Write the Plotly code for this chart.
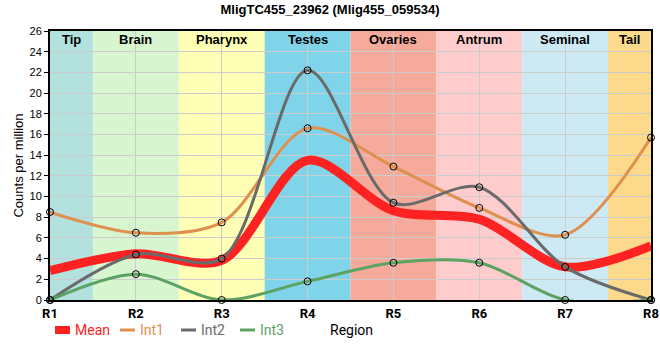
import plotly.graph_objects as go

regions = ["R1", "R2", "R3", "R4", "R5", "R6", "R7", "R8"]
x_pos = [1, 2, 3, 4, 5, 6, 7, 8]
mean_vals = [2.83, 4.47, 3.83, 13.5, 8.63, 7.8, 3.2, 5.23]
int1_vals = [8.5, 6.5, 7.5, 16.6, 12.9, 8.9, 6.3, 15.7]
int2_vals = [0.0, 4.4, 4.0, 22.2, 9.4, 10.9, 3.2, 0.0]
int3_vals = [0.0, 2.5, 0.0, 1.8, 3.6, 3.6, 0.0, 0.0]

band_names = ["Tip", "Brain", "Pharynx", "Testes", "Ovaries", "Antrum", "Seminal", "Tail"]
band_starts = [1.0, 1.5, 2.5, 3.5, 4.5, 5.5, 6.5, 7.5]
band_ends = [1.5, 2.5, 3.5, 4.5, 5.5, 6.5, 7.5, 8.0]
band_colors = ["#b3e1dd", "#d7f6d0", "#ffffb5", "#7fd4ea", "#f5aa9b",
               "#ffcccd", "#cde9f3", "#fdd98b"]

series_names = ["Mean", "Int1", "Int2", "Int3"]
series_vals = [mean_vals, int1_vals, int2_vals, int3_vals]
series_colors = ["#ff2222", "#df8f4e", "#6a6a6a", "#5ba263"]
series_widths = [9, 3, 3, 3]
series_markers = [False, True, True, True]

# plot area geometry (pixels) for the hand-drawn legend
L, R, T, B = 50, 651, 31, 300
W, H = R - L, B - T


def px(x):
    return (x - L) / W


def py(y):
    return (B - y) / H


fig = go.Figure()
for name, vals, color, width in zip(series_names, series_vals, series_colors, series_widths):
    fig.add_trace(go.Scatter(
        x=x_pos, y=vals, mode="lines", name=name,
        line=dict(color=color, width=width, shape="spline", smoothing=0.9),
        hoverinfo="skip", showlegend=False,
    ))
for vals, mk in zip(series_vals, series_markers):
    if mk:
        fig.add_trace(go.Scatter(
            x=x_pos, y=vals, mode="markers",
            marker=dict(symbol="circle-open", size=7, color="black",
                        line=dict(width=1, color="black")),
            showlegend=False, hoverinfo="skip", cliponaxis=False,
        ))

shapes = []
annotations = []
for nm, s, e, c in zip(band_names, band_starts, band_ends, band_colors):
    shapes.append(dict(type="rect", xref="x", yref="y", x0=s, x1=e, y0=0, y1=26,
                       fillcolor=c, line=dict(width=0), layer="below"))
    annotations.append(dict(x=(s + e) / 2, y=26, xref="x", yref="y",
                            text=f"<b>{nm}</b>", showarrow=False, yanchor="middle",
                            yshift=-8,
                            font=dict(family="Liberation Sans", size=13, color="black")))

# custom legend
leg_x = [55, 120, 181, 240]
leg_y = 330
for name, color, width, lx in zip(series_names, series_colors, series_widths, leg_x):
    shapes.append(dict(type="line", xref="paper", yref="paper",
                       x0=px(lx), x1=px(lx + 15), y0=py(leg_y), y1=py(leg_y),
                       line=dict(color=color, width=width if width < 5 else 8)))
    annotations.append(dict(x=px(lx + 18), y=py(leg_y), xref="paper", yref="paper",
                            text=name, showarrow=False, xanchor="left", yanchor="middle",
                            font=dict(family="Roboto", size=14, color=color)))
annotations.append(dict(x=px(351), y=py(leg_y), xref="paper", yref="paper",
                        text="Region", showarrow=False, xanchor="center", yanchor="middle",
                        font=dict(family="Roboto", size=14, color="black")))

fig.update_layout(
    width=660, height=360,
    margin=dict(l=L, r=660 - R, t=T, b=360 - B),
    paper_bgcolor="white", plot_bgcolor="white",
    title=dict(text="<b>MligTC455_23962 (Mlig455_059534)</b>", x=0.5, xanchor="center",
               y=1 - 9.5 / 360, yanchor="middle", yref="container",
               font=dict(family="Liberation Sans", size=13, color="black")),
    shapes=shapes, annotations=annotations,
    showlegend=False,
    xaxis=dict(range=[1, 8], tickvals=x_pos, ticktext=[f"<b>{r}</b>" for r in regions],
               tickfont=dict(family="Roboto", size=13, color="black"),
               showgrid=True, gridcolor="#cccccc", gridwidth=1,
               showline=True, linecolor="black", linewidth=2, mirror=True,
               ticks="", zeroline=False, automargin=False),
    yaxis=dict(range=[0, 26], dtick=2,
               tickfont=dict(family="Liberation Sans", size=11, color="black"),
               showgrid=True, gridcolor="#cccccc", gridwidth=1,
               showline=True, linecolor="black", linewidth=2, mirror=True,
               ticks="outside", ticklen=4, tickcolor="black", zeroline=False,
               automargin=False,
               title=dict(text="Counts per million",
                          font=dict(family="Liberation Sans", size=13, color="black"),
                          standoff=3)),
)

fig.write_html("out.html", config={"displayModeBar": False},
               post_script="document.body.style.margin='0';document.body.style.padding='0';")
